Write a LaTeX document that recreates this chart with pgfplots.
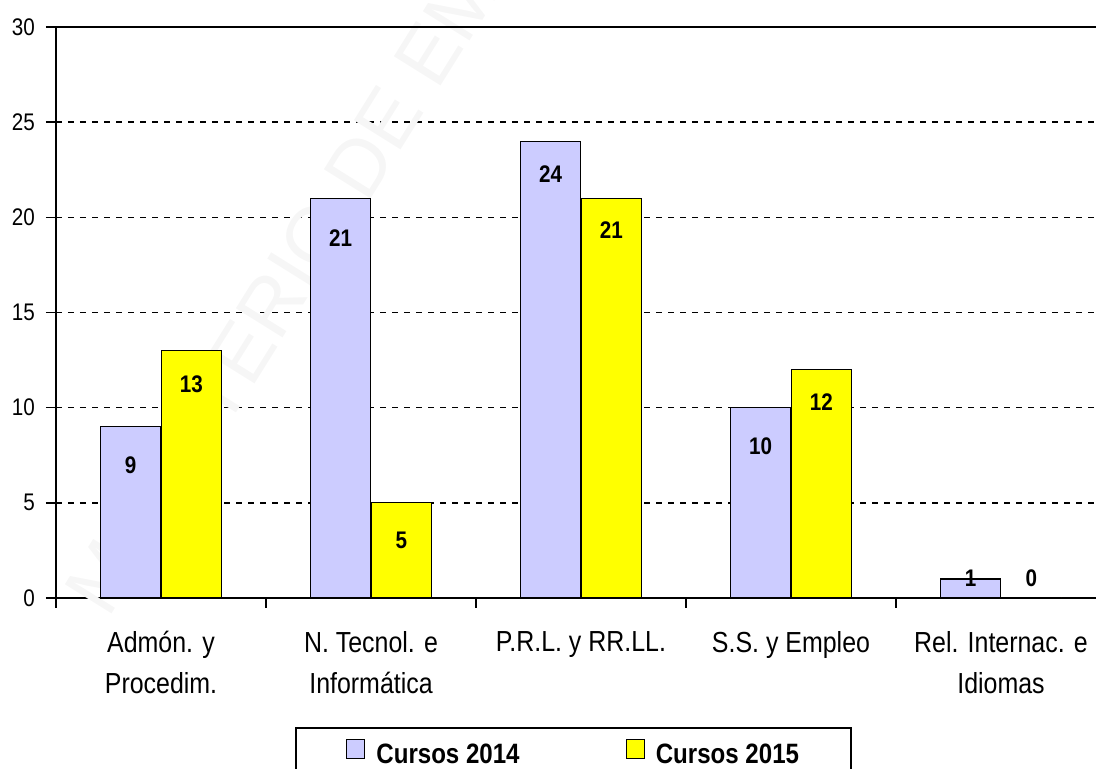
\documentclass[border=0pt]{standalone}
\usepackage{fontspec}
\setmainfont{Liberation Sans}[FakeStretch=0.86]
\newfontfamily\wmfont{Liberation Sans}
\usepackage{pgfplots}
\usepackage{pgfplotstable}
\pgfplotsset{compat=1.18}
\definecolor{cA}{RGB}{204,204,255}
\definecolor{cB}{RGB}{255,255,0}
\definecolor{wm}{RGB}{246,246,246}

\pgfplotstableread{
x y dy
0 9 -19.5
1 21 -20
2 24 -16.5
3 10 -19.5
4 1 0.5
}\datA
\pgfplotstableread{
x y dy
0 13 -17
1 5 -19
2 21 -16
3 12 -16.5
4 0 10
}\datB

\begin{document}
\begin{tikzpicture}
\begin{axis}[
  scale only axis,
  width=525pt, height=285.5pt,
  xmin=-0.5, xmax=4.5, ymin=0, ymax=30,
  axis lines=left,
  axis line style={-, line width=1.1pt},
  ybar, bar width=0.288,
  ytick={0,5,...,30},
  xtick={-0.5,0.5,...,4.5},
  xticklabels={{Admón. y\\Procedim.},{N. Tecnol. e\\Informática},{P.R.L. y RR.LL.},{S.S. y Empleo},{Rel. Internac. e\\Idiomas}},
  x tick label as interval,
  tick align=outside,
  major tick length=5pt,
  tick style={black, line width=0.8pt},
  ymajorgrids,
  major grid style={black, line width=0.8pt, dash pattern=on 3pt off 3pt},
  yticklabel style={font=\fontsize{12}{14}\selectfont, xshift=-2pt},
  xticklabel style={font=\fontsize{14.5}{20.5}\selectfont, align=center, yshift=-8pt},
  /pgf/number format/assume math mode=true,
  nodes near coords,
  every node near coord/.append style={font=\bfseries\fontsize{12}{14}\selectfont, anchor=center, yshift=\dy pt},
  visualization depends on={\thisrow{dy} \as \dy},
  legend columns=2,
  legend style={at={(0.493,-0.2259)}, anchor=north, draw=black, line width=0.8pt,
    font=\bfseries\fontsize{14}{16}\selectfont, inner xsep=25pt, inner ysep=5.5pt,
    nodes={inner sep=1pt},
    /tikz/every odd column/.append style={column sep=4.5pt},
    /tikz/every even column/.append style={column sep=52pt}},
  legend image code/.code={\draw[#1, line width=0.6pt] (0pt,-1.5pt) rectangle (9pt,8pt);},
  clip=false,
]
\node[anchor=base west, rotate=58, text=wm, font=\wmfont\fontsize{40}{40}\selectfont] at (axis cs:-0.27,-1.42) {MINISTERIO DE EMPLEO Y SEGURIDAD SOCIAL};
\addplot[fill=cA, draw=black, line width=0.6pt, bar shift=-0.145] table[x=x, y=y] {\datA};
\addplot[fill=cB, draw=black, line width=0.6pt, bar shift=0.145] table[x=x, y=y] {\datB};
\legend{Cursos 2014, Cursos 2015}
\draw[black, line width=0.8pt] (rel axis cs:0,1) -- (rel axis cs:1,1);
\coordinate (SW) at (rel axis cs:0,0);
\coordinate (NE) at (rel axis cs:1,1);
\end{axis}
\pgfresetboundingbox
\path[use as bounding box] ([shift={(-28pt,-85.5pt)}]SW) rectangle ([shift={(-5pt,13.5pt)}]NE);
\end{tikzpicture}
\end{document}
